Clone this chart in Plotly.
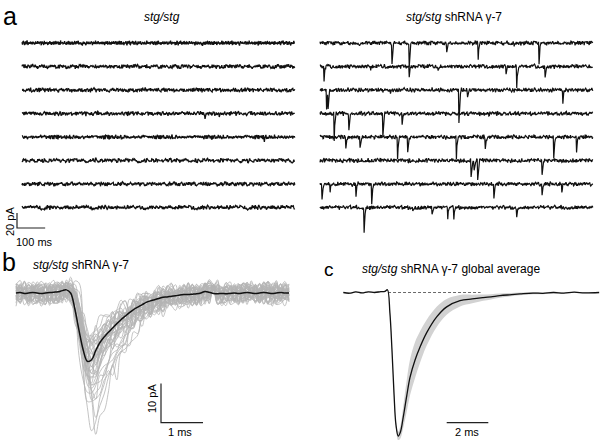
import plotly.graph_objects as go

W, H = 600, 440
FONT = "Liberation Sans, Arial, Helvetica"

# ---------------- data ----------------
# panel a: 8 sweeps per genotype, 970 ms each, one sample every 1.8 ms
SWEEP_MS = 970
DT_A = 1.8

# recorded baseline noise (pA), reused along the sweeps
NOISE_A = [0.4, -1.1, 0.8, 1.6, -0.3, -1.8, 0.2, 1.1, -0.7, 0.5,
           1.9, -0.9, -1.4, 0.6, 0.1, -0.5, 1.3, 0.9, -1.6, -0.2,
           0.7, -1.0, 1.5, 0.3, -0.8, -1.9, 0.0, 1.2, -0.4, 0.9,
           -1.3, 1.7, 0.2, -0.6, -1.2, 0.8, 1.4, -0.1, -1.7, 0.5,
           1.0, -0.9, 0.3, -1.5, 1.8, -0.2, 0.6, -1.1, 0.4, 1.2,
           -0.7, -1.6, 0.9, 0.1, -0.3, 1.5, -1.0, 0.7, -1.4, 0.2,
           1.1, -0.5, -1.9, 1.3, 0.6, -0.8, 0.0, 1.6, -1.2, 0.3,
           -0.6, 1.0, -1.7, 0.8, 0.4, -1.3, 1.9, -0.4, -0.9, 0.5,
           1.4, -1.5, 0.1, -0.2, 1.2, -1.1, 0.7, -1.8, 0.9, 0.3,
           -0.7, 1.7, -0.1, -1.4, 0.6, 1.1, -1.0, 0.2, -0.5, 1.3,
           -1.6]
NOISE_B = [0.6, -0.3, -0.9, 0.4, 1.0, -0.6, 0.2, -1.0, 0.8, 0.1,
           -0.4, 0.9, -0.8, 0.3, 0.7, -0.2, -1.0, 0.5, 0.0, -0.7,
           1.0, -0.5, 0.3, 0.6, -0.9, 0.2, -0.1, 0.8, -0.6, 0.4,
           -0.3, 0.9, -0.8, 0.1, 0.5, -0.4, 0.7]

# normalised shape of one miniature event at 1.8 ms sampling
EVENT_SHAPE = [1.0, 0.5, 0.22, 0.09]

# (sweep, time ms, amplitude pA)
EVENTS_STG = [(0, 210, 3), (0, 640, 4), (1, 560, 3), (1, 930, 3), (2, 300, 3),
              (3, 650, 5), (3, 700, 3), (4, 860, 4), (5, 420, 3), (6, 820, 3),
              (7, 400, 3)]
EVENTS_G7 = [(0, 140, 5), (0, 255, 27), (0, 316, 32), (0, 450, 13), (0, 561, 21), (0, 690, 5), (0, 777, 29),
             (1, 14, 19), (1, 180, 5), (1, 316, 13), (1, 420, 4), (1, 660, 8), (1, 699, 27), (1, 799, 13),
             (2, 24, 23), (2, 29, 23), (2, 250, 4), (2, 493, 44), (2, 524, 11), (2, 862, 16),
             (3, 50, 36), (3, 103, 21), (3, 224, 29), (3, 291, 15), (3, 600, 4),
             (4, 91, 16), (4, 142, 17), (4, 276, 29), (4, 311, 19), (4, 485, 29), (4, 586, 16), (4, 830, 27), (4, 911, 23),
             (5, 80, 4), (5, 536, 21), (5, 547, 15), (5, 560, 28), (5, 788, 19),
             (6, 7, 20), (6, 36, 13), (6, 127, 15), (6, 184, 25), (6, 618, 19), (6, 788, 13), (6, 858, 13),
             (7, 156, 35), (7, 330, 5), (7, 398, 11), (7, 454, 13), (7, 476, 13), (7, 698, 13)]

# panel b: average mEPSC (pA), one value every 0.1 ms from 0 to 6.5 ms
DT_B = 0.1
MEAN_B = [0.0, 0.1, -0.1, 0.0, 0.1, 0.0, -0.1, 0.0, 0.1, 0.2,
          0.3, 0.6, 0.8, 0.0, -4.0, -9.5, -14.5, -17.4, -17.0, -14.6,
          -12.6, -11.2, -10.0, -8.9, -7.8, -6.8, -5.9, -5.0, -4.2, -3.6,
          -3.0, -2.4, -2.0, -1.7, -1.4, -1.1, -1.0, -0.8, -0.7, -0.5,
          -0.4, -0.4, -0.3, -0.2, 0.0, 0.4, 0.2, -0.1, -0.2, -0.1,
          -0.2, -0.1, 0.0, -0.1, 0.0, 0.1, 0.0, -0.1, 0.0, 0.1,
          0.0, -0.1, 0.0, 0.1, 0.0, 0.0]
# individual events: peak amplitude (pA) and peak delay (samples)
GRAY_AMP = [11, 12, 12, 13, 13, 14, 14, 14, 15, 15, 15, 16, 16, 16, 17, 17, 17, 18, 18,
            18, 19, 19, 20, 20, 21, 21, 22, 23, 23, 24, 25, 26, 27, 28, 29, 30, 32, 33]
GRAY_SHIFT = [0, 1, 0, 0, 1, 0, 1, 0, 0, 1, 0, 1, 0, 0, 1, 0, 1, 0, 1,
              1, 0, 1, 0, 1, 1, 0, 1, 1, 0, 1, 1, 0, 1, 1, 2, 1, 1, 2]

# panel c: global average (normalised), with SEM
C_T = [0, 0.3, 0.6, 0.9, 1.2, 1.5, 1.8, 2.0, 2.12, 2.24, 2.34, 2.44, 2.53, 2.64,
       2.75, 2.88, 3.05, 3.21, 3.45, 3.69, 4.01, 4.49, 4.97, 5.61, 6.2, 6.72,
       7.1, 7.53, 8.0, 8.5, 9.12, 9.6, 10.1, 10.6, 11.1, 11.6, 12.3]
C_V = [0, -0.005, 0.004, -0.003, 0.005, 0.0, 0.006, 0.008, 0.019, -0.14, -0.40, -0.71,
       -0.92, -1.0, -0.97, -0.87, -0.72, -0.59, -0.47, -0.38, -0.28, -0.17, -0.10,
       -0.057, -0.045, -0.036, -0.03, -0.022, -0.016, -0.01, -0.004, -0.006, 0.0,
       -0.004, 0.002, -0.003, 0.0]
C_SEM = [0.004, 0.004, 0.004, 0.004, 0.004, 0.004, 0.004, 0.004, 0.004, 0.01, 0.015,
         0.02, 0.025, 0.03, 0.045, 0.075, 0.11, 0.125, 0.125, 0.11, 0.09, 0.07, 0.055,
         0.04, 0.03, 0.022, 0.018, 0.015, 0.012, 0.01, 0.008, 0.006, 0.005, 0.004,
         0.004, 0.004, 0.004]
C_BASE_FROM, C_BASE_TO = 2.15, 6.6

# scale bars
BAR_A_PA, BAR_A_MS = 20, 100
BAR_B_PA, BAR_B_MS = 10, 1
BAR_C_MS = 2

# ---------------- geometry (px per unit) ----------------
A_MS_PX = 3.55      # ms per px
A_PA_PX = 0.75      # px per pA
B_MS_PX = 42.0      # px per ms
B_PA_PX = 3.93      # px per pA
C_MS_PX = 20.8
C_UNIT_PX = 143.5

fig = go.Figure()


def sweep(events, k, step, off, step2, off2, base):
    n = int(SWEEP_MS / DT_A) + 1
    y = [1.3 * NOISE_A[(j * step + off) % len(NOISE_A)]
         + 0.9 * NOISE_B[(j * step2 + off2) % len(NOISE_B)] for j in range(n)]
    for s, tm, amp in events:
        if s != k:
            continue
        i0 = int(round(tm / DT_A))
        for m, f in enumerate(EVENT_SHAPE):
            if i0 + m < n:
                y[i0 + m] -= amp * f
    return [j * DT_A for j in range(n)], [v + base for v in y]


steps_l = [1, 3, 7, 9, 11, 13, 17, 19]
steps_r = [23, 27, 29, 31, 33, 37, 39, 41]
for k in range(8):
    base = -(43 + 23.5 * k) / A_PA_PX
    t, y = sweep(EVENTS_STG, k, steps_l[k], 13 * k, 2 + k, 5 * k, base)
    fig.add_trace(go.Scatter(x=t, y=y, xaxis="x", yaxis="y", mode="lines",
                             line=dict(color="#111111", width=1.3)))
    t, y = sweep(EVENTS_G7, k, steps_r[k], 29 * k + 7, 3 + k, 11 * k + 3, base)
    fig.add_trace(go.Scatter(x=t, y=y, xaxis="x2", yaxis="y", mode="lines",
                             line=dict(color="#111111", width=1.2)))

# scale bar a
bx0 = (17 - 22) * A_MS_PX
by0 = -228 / A_PA_PX
fig.add_trace(go.Scatter(x=[bx0, bx0, bx0 + BAR_A_MS], y=[by0 + BAR_A_PA, by0, by0],
                         xaxis="x", yaxis="y", mode="lines",
                         line=dict(color="#222222", width=1.2)))

# panel b
n_b = len(MEAN_B)
t_b = [j * DT_B for j in range(n_b)]
peak_b = -min(MEAN_B)
for k, (amp, sh) in enumerate(zip(GRAY_AMP, GRAY_SHIFT)):
    sc = amp / peak_b
    y = []
    for j in range(n_b):
        src = min(max(j - sh, 0), n_b - 1)
        y.append(MEAN_B[src] * sc
                 + 1.3 * NOISE_A[(j * (3 + 2 * k) + 7 * k) % len(NOISE_A)]
                 + 0.9 * NOISE_B[(j * (1 + k) + 5 * k) % len(NOISE_B)])
    fig.add_trace(go.Scatter(x=t_b, y=y, xaxis="x3", yaxis="y3", mode="lines",
                             line=dict(color="#b4b4b4", width=0.8, shape="spline")))
fig.add_trace(go.Scatter(x=t_b, y=MEAN_B, xaxis="x3", yaxis="y3", mode="lines",
                         line=dict(color="#111111", width=1.5, shape="spline")))

bx0 = (161 - 16) / B_MS_PX
by0 = -(422.7 - 293) / B_PA_PX
fig.add_trace(go.Scatter(x=[bx0, bx0, bx0 + BAR_B_MS], y=[by0 + BAR_B_PA, by0, by0],
                         xaxis="x3", yaxis="y3", mode="lines",
                         line=dict(color="#222222", width=1.2)))

# panel c
upper = [v + s for v, s in zip(C_V, C_SEM)]
lower = [v - s for v, s in zip(C_V, C_SEM)]
fig.add_trace(go.Scatter(x=C_T, y=upper, xaxis="x4", yaxis="y4", mode="lines",
                         line=dict(width=0, shape="spline"), hoverinfo="skip"))
fig.add_trace(go.Scatter(x=C_T, y=lower, xaxis="x4", yaxis="y4", mode="lines",
                         line=dict(width=0, shape="spline"), fill="tonexty",
                         fillcolor="#d2d2d2", hoverinfo="skip"))
fig.add_trace(go.Scatter(x=[C_BASE_FROM, C_BASE_TO], y=[0, 0], xaxis="x4", yaxis="y4",
                         mode="lines", line=dict(color="#444444", width=0.8, dash="3px,2px")))
fig.add_trace(go.Scatter(x=C_T, y=C_V, xaxis="x4", yaxis="y4", mode="lines",
                         line=dict(color="#111111", width=1.3, shape="spline")))

bx0 = (446.7 - 343.3) / C_MS_PX
by0 = -(422.7 - 292.5) / C_UNIT_PX
fig.add_trace(go.Scatter(x=[bx0, bx0 + BAR_C_MS], y=[by0, by0], xaxis="x4", yaxis="y4",
                         mode="lines", line=dict(color="#222222", width=1.2)))

# axes
hid = dict(visible=False, showgrid=False, zeroline=False)
top = [1 - 250 / H, 1]
bot = [0, 190 / H]
fig.update_layout(
    width=W, height=H, margin=dict(l=0, r=0, t=0, b=0),
    paper_bgcolor="white", plot_bgcolor="white", showlegend=False,
    xaxis=dict(domain=[0, 0.5], range=[-22 * A_MS_PX, 278 * A_MS_PX], **hid),
    xaxis2=dict(domain=[0.5, 1], range=[-20 * A_MS_PX, 280 * A_MS_PX], **hid),
    yaxis=dict(domain=top, range=[-250 / A_PA_PX, 0], **hid),
    xaxis3=dict(domain=[0, 0.5], range=[-16 / B_MS_PX, 284 / B_MS_PX], **hid),
    yaxis3=dict(domain=bot, range=[-(440 - 293) / B_PA_PX, (293 - 250) / B_PA_PX], **hid),
    xaxis4=dict(domain=[0.5, 1], range=[-43.3 / C_MS_PX, 256.7 / C_MS_PX], **hid),
    yaxis4=dict(domain=bot, range=[-(440 - 292.5) / C_UNIT_PX, (292.5 - 250) / C_UNIT_PX], **hid),
)


def label(text, x, y, size, **kw):
    fig.add_annotation(text=text, x=x / W, y=1 - y / H, xref="paper", yref="paper",
                       showarrow=False, xanchor="center", yanchor="middle",
                       font=dict(size=size, color="black", family=FONT), **kw)


label("a", 10, 16, 25)
label("b", 9, 262, 25)
label("c", 329, 269, 19)
label("<i>stg/stg</i>", 162, 17, 12)
label("<i>stg/stg</i> shRNA γ-7", 454, 17, 12)
label("<i>stg/stg</i> shRNA γ-7", 81, 265, 12)
label("<i>stg/stg</i> shRNA γ-7 global average", 451, 269, 12)
label("20 pA", 10, 222, 11, textangle=-90)
label("100 ms", 34, 242, 11)
label("10 pA", 152, 399, 11, textangle=-90)
label("1 ms", 180, 432, 11)
label("2 ms", 467, 432, 11)

# the page's default body margin would push the figure 8 px in
fig.write_html("out.html", config={"displayModeBar": False},
               post_script="document.body.style.margin='0';")
